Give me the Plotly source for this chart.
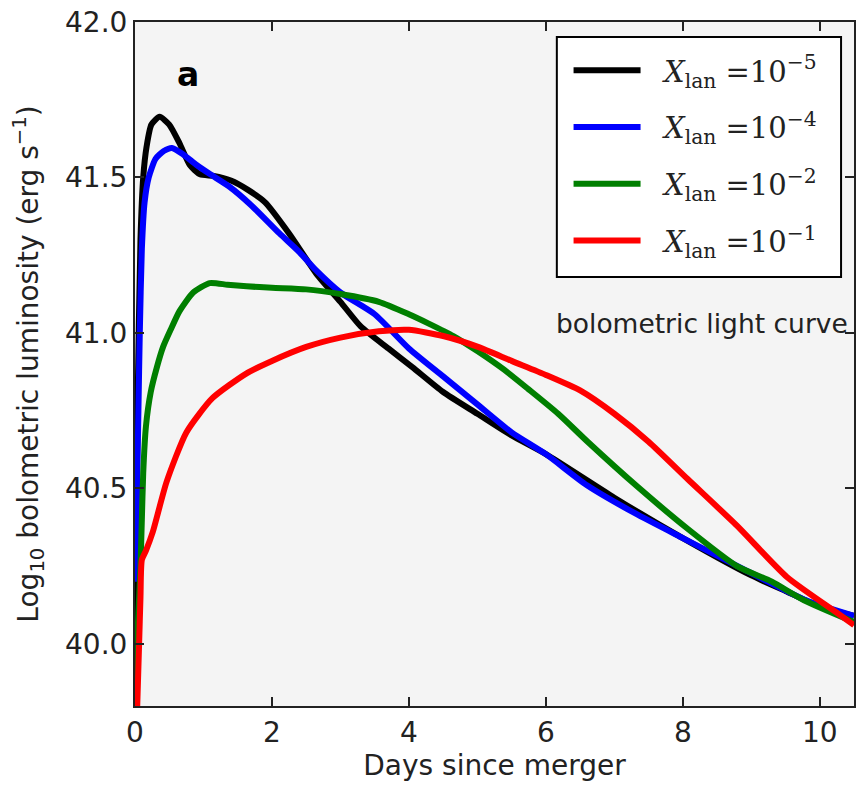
import plotly.graph_objects as go

# ---- data ----
days_k = [0.0, 0.04, 0.08, 0.12, 0.17, 0.24, 0.36, 0.5, 0.65, 0.8, 0.95, 1.15, 1.4, 1.65, 1.9, 2.25, 2.65, 3.0, 3.3, 3.7, 4.05, 4.5, 5.0, 5.5, 6.0, 7.0, 8.0, 9.0, 9.5, 10.0, 10.5]
lum_k = [40.0, 40.8, 41.3, 41.5, 41.6, 41.67, 41.695, 41.67, 41.61, 41.54, 41.51, 41.505, 41.49, 41.46, 41.42, 41.32, 41.19, 41.10, 41.02, 40.95, 40.89, 40.81, 40.74, 40.67, 40.61, 40.47, 40.34, 40.22, 40.17, 40.12, 40.09]

days_b = [0.0, 0.03, 0.05, 0.07, 0.1, 0.14, 0.2, 0.3, 0.42, 0.54, 0.7, 0.9, 1.1, 1.38, 1.7, 2.11, 2.4, 2.65, 3.0, 3.5, 4.0, 4.5, 5.0, 5.5, 6.0, 6.6, 7.3, 8.0, 8.8, 9.8, 10.5]
lum_b = [40.2, 40.5, 40.75, 41.0, 41.27, 41.42, 41.5, 41.56, 41.585, 41.595, 41.575, 41.54, 41.51, 41.47, 41.41, 41.32, 41.26, 41.2, 41.13, 41.06, 40.95, 40.86, 40.77, 40.68, 40.61, 40.51, 40.42, 40.34, 40.25, 40.14, 40.09]

days_g = [0.0, 0.05, 0.08, 0.1, 0.12, 0.16, 0.23, 0.32, 0.41, 0.52, 0.65, 0.85, 1.09, 1.35, 1.63, 2.0, 2.5, 3.0, 3.56, 4.0, 4.29, 4.65, 5.01, 5.4, 5.74, 6.18, 6.61, 7.34, 8.07, 8.79, 9.3, 9.77, 10.5]
lum_g = [39.85, 40.1, 40.25, 40.4, 40.55, 40.7, 40.81, 40.89, 40.955, 41.01, 41.07, 41.13, 41.16, 41.155, 41.15, 41.145, 41.14, 41.125, 41.10, 41.06, 41.03, 40.99, 40.94, 40.88, 40.82, 40.74, 40.65, 40.505, 40.37, 40.25, 40.2, 40.14, 40.07]

days_r = [0.03, 0.06, 0.08, 0.1, 0.16, 0.26, 0.46, 0.75, 1.13, 1.63, 2.0, 2.5, 3.0, 3.56, 4.0, 4.5, 5.01, 5.5, 6.0, 6.5, 7.0, 7.5, 8.07, 8.79, 9.52, 10.25, 10.5]
lum_r = [39.78, 40.0, 40.15, 40.27, 40.30, 40.36, 40.52, 40.68, 40.79, 40.87, 40.91, 40.955, 40.985, 41.005, 41.01, 40.99, 40.955, 40.91, 40.865, 40.815, 40.74, 40.65, 40.53, 40.38, 40.215, 40.10, 40.06]

series_names = [
    "&nbsp;&nbsp;<i>X</i><sub>lan</sub> =10<sup>−5</sup>",
    "&nbsp;&nbsp;<i>X</i><sub>lan</sub> =10<sup>−4</sup>",
    "&nbsp;&nbsp;<i>X</i><sub>lan</sub> =10<sup>−2</sup>",
    "&nbsp;&nbsp;<i>X</i><sub>lan</sub> =10<sup>−1</sup>",
]
series_colors = ["#000000", "#0000ff", "#007f00", "#ff0000"]

x_ticks = [0, 2, 4, 6, 8, 10]
y_ticks = [40.0, 40.5, 41.0, 41.5, 42.0]

FONT = "DejaVu Sans"
INK = "#222222"

fig = go.Figure()
for i, (xs, ys) in enumerate([(days_k, lum_k), (days_b, lum_b), (days_g, lum_g), (days_r, lum_r)]):
    fig.add_trace(go.Scatter(
        x=xs, y=ys, mode="lines", name=series_names[i],
        line=dict(color=series_colors[i], width=6, shape="spline", smoothing=0.6),
        legendgroup=str(i),
    ))

fig.add_annotation(x=0.78, y=41.83, text="<b>a</b>", showarrow=False,
                   font=dict(family=FONT, size=33, color="black"))
fig.add_annotation(x=6.12, y=41.03, text="bolometric light curve", showarrow=False,
                   xanchor="left", yanchor="middle",
                   font=dict(family=FONT, size=26.5, color=INK))

# legend frame
fig.add_shape(type="rect", xref="paper", yref="paper",
              x0=0.5867, x1=0.982, y0=0.6272, y1=0.978,
              fillcolor="white", line=dict(color="black", width=2), layer="above")

axis_common = dict(
    showline=True, linecolor=INK, linewidth=2, mirror="ticks",
    ticks="inside", ticklen=9, tickwidth=2, tickcolor=INK,
    showgrid=False, zeroline=False,
    tickfont=dict(family=FONT, size=28, color=INK),
)

fig.update_xaxes(range=[0, 10.5], tickvals=x_ticks, ticktext=[str(v) for v in x_ticks],
                 title=dict(text="Days since merger", font=dict(family=FONT, size=28, color=INK), standoff=8),
                 **axis_common)
fig.update_yaxes(range=[39.8, 42.0], tickvals=y_ticks, ticktext=[f"{v:.1f}" for v in y_ticks],
                 title=dict(text="Log<sub>10</sub> bolometric luminosity (erg s<sup>−1</sup>)",
                            font=dict(family=FONT, size=28, color=INK), standoff=18),
                 **axis_common)

fig.update_layout(
    width=858, height=785,
    margin=dict(l=135, r=2, t=22, b=79),
    paper_bgcolor="white", plot_bgcolor="#f4f4f4",
    showlegend=True,
    legend=dict(
        x=0.603, y=0.9664, xanchor="left", yanchor="top",
        bgcolor="rgba(0,0,0,0)", borderwidth=0,
        font=dict(family="DejaVu Serif", size=29, color=INK),
        itemwidth=67, tracegroupgap=16, traceorder="grouped",
    ),
)

fig.write_html("out.html")
